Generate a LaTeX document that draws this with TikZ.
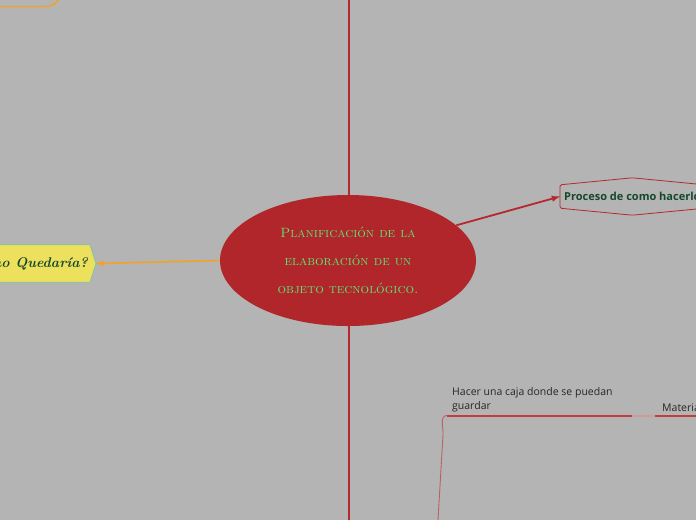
\documentclass[tikz,border=0pt]{standalone}
\usepackage{fontspec}
\setsansfont{Open Sans}
\usepackage{tikz}
\usetikzlibrary{arrows,shapes.geometric}
\usetikzlibrary{positioning}
\definecolor{bggrey}{RGB}{180,180,180}
\definecolor{mainred}{RGB}{176,38,42}
\definecolor{linered}{RGB}{180,40,46}
\definecolor{handgreen}{RGB}{96,226,118}
\definecolor{darkgreen}{RGB}{20,72,44}
\definecolor{branchorange}{RGB}{245,162,32}
\definecolor{notewhite}{RGB}{237,224,92}
\definecolor{notemint}{RGB}{124,200,160}
\definecolor{sublinered}{RGB}{192,62,64}
\definecolor{subfade}{RGB}{200,158,158}
\tikzset{
    font={\fontsize{10pt}{14pt}\selectfont},
    mainidea/.style={
           ellipse,
           fill=mainred,
           minimum width=256pt,
           minimum height=131pt,
           inner sep=0pt,
           text=handgreen,
           align=center,
           font={\fontsize{13.5pt}{28pt}\selectfont\scshape},
           },
    topic/.style={
           rectangle,
           draw=none,
           inner xsep=4pt,
           minimum height=23pt,
           text=darkgreen,
           font={\sffamily\bfseries\fontsize{11pt}{12pt}\selectfont},
           },
    subtopic/.style={
           rectangle,
           draw=none,
           inner sep=0pt,
           align=left,
           text=black!85,
           font={\sffamily\fontsize{10.5pt}{14pt}\selectfont},
           },
}

\begin{document}
\begin{tikzpicture}[x=1pt,y=-1pt,>=latex]

\fill[bggrey] (0,0) rectangle (696,520);
\clip (0,0) rectangle (696,520);

\coordinate (TOPEND) at (348.5,0);
\coordinate (BOTTOMEND) at (348.5,520);
\draw[linered, line width=2pt] (TOPEND) -- (BOTTOMEND);

% Central idea
\node[mainidea] (PLANIFICACION) at (348,260.5) {%
Planificación de la\\elaboración de un\\objeto tecnológico.};

% Left branch: yellow note
\node[rectangle, draw=none, anchor=east, minimum height=37pt, inner xsep=2pt, text=darkgreen,
      font={\bfseries\itshape\fontsize{14pt}{16pt}\selectfont}] (QUEDARIA) at (90,263.5) {¿Cómo Quedaría?};
\filldraw[fill=notewhite, draw=notemint, line width=0.8pt]
    (QUEDARIA.north west) -- (QUEDARIA.north east) -- ([xshift=6pt]QUEDARIA.east)
    -- (QUEDARIA.south east) -- (QUEDARIA.south west) -- cycle;
\node[rectangle, anchor=east, minimum height=37pt, inner xsep=2pt, text=darkgreen,
      font={\bfseries\itshape\fontsize{14pt}{16pt}\selectfont}] at (QUEDARIA.east) {¿Cómo Quedaría?};

% Right branch: process topic
\node[topic, anchor=west] (PROCESO) at (560,196.5) {Proceso de como hacerlo};
\draw[linered, line width=0.8pt, rounded corners=1.5pt]
    (PROCESO.south west) -- (PROCESO.north west) -- ([yshift=7pt]PROCESO.north)
    -- (PROCESO.north east) -- (PROCESO.south east) -- ([yshift=-7pt]PROCESO.south) -- cycle;

% Bottom subtopics
\node[subtopic, anchor=south west] (CAJA) at (452,412) {Hacer una caja donde se puedan\\guardar};
\node[subtopic, anchor=south west] (MATERIALES) at (662,412) {Materiales};
\coordinate (CAJASTART) at (447,415.5);
\coordinate (CAJAEND) at (632,415.5);
\coordinate (MATSTART) at (655,415.5);
\coordinate (MATEND) at (696,415.5);
\coordinate (CAJAFOOT) at (438,520);

\draw[sublinered, line width=2pt] (CAJASTART) -- (CAJAEND);
\draw[subfade, line width=2pt] (CAJAEND) -- (MATSTART);
\draw[sublinered, line width=2pt] (MATSTART) -- (MATEND);
\draw[sublinered!70!bggrey, line width=0.9pt] (CAJASTART) to[out=180,in=86] (443,435) -- (CAJAFOOT);

% Top-left leftover branch
\coordinate (OLDSTART) at (0,6.5);
\coordinate (OLDBEND) at (46,6.5);
\coordinate (OLDEND) at (59,-1);
\draw[branchorange, line width=1.4pt] (OLDSTART) -- (OLDBEND) to[out=0,in=235] (OLDEND);

\path (PLANIFICACION.west) edge[->, draw=branchorange, line width=1.5pt] ([xshift=6pt]QUEDARIA.east)
(PLANIFICACION.18) edge[->, draw=linered, line width=1.8pt] (PROCESO.west);

\end{tikzpicture}
\end{document}
